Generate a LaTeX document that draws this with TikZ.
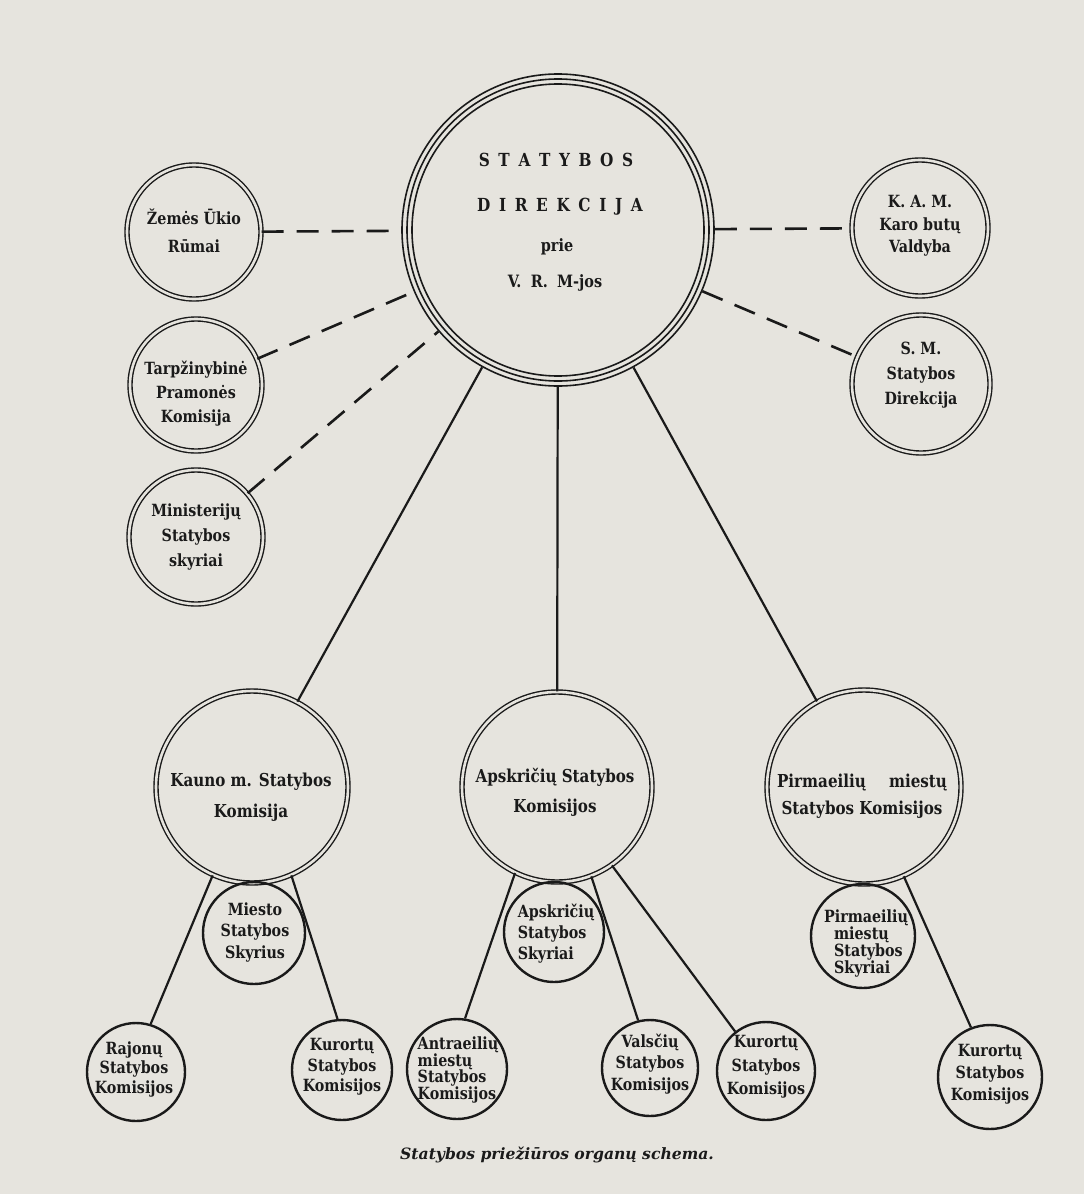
\documentclass[tikz,border=0pt]{standalone}
\usepackage{fontspec}
\setmainfont{DejaVu Serif}[FakeStretch=0.85]
\newfontfamily\capfont{DejaVu Serif}
\definecolor{paper}{RGB}{230,228,222}
\definecolor{ink}{RGB}{26,26,26}
\def\lsp#1{\lspA#1\relax\unkern}
\def\lspA#1{\ifx#1\relax\else#1\kern0.48em\expandafter\lspA\fi}
\begin{document}
\begin{tikzpicture}[x=0.5pt,y=-0.5pt,
  dbl/.style={circle, draw=ink, line width=0.7pt, double=paper, double distance=1.3pt, inner sep=0pt, minimum size=#1},
  sgl/.style={circle, draw=ink, line width=1.2pt, inner sep=0pt, minimum size=#1},
  txt/.style={font=\bfseries\fontsize{8.4}{#1}\selectfont, align=center, inner sep=0pt, text=ink},
  txt/.default=12,
  txtb/.style={font=\bfseries\fontsize{8.9}{#1}\selectfont, align=center, inner sep=0pt, text=ink},
  ttl/.style={font=\bfseries\fontsize{9}{11}\selectfont, inner sep=0pt, text=ink},
  sub/.style={font=\bfseries\fontsize{8.5}{11}\selectfont, inner sep=0pt, text=ink},
  conn/.style={draw=ink, line width=1.1pt},
  dconn/.style={draw=ink, line width=1.3pt, dash pattern=on 11pt off 6.5pt},
  capt/.style={font=\capfont\bfseries\itshape\fontsize{7.8}{10}\selectfont, inner sep=0pt, text=ink}]
\fill[paper] (0,0) rectangle (1084,1194);
\useasboundingbox (0,0) rectangle (1084,1194);

% main circle (triple line)
\node[circle, draw=ink, line width=0.8pt, inner sep=0pt, minimum size=156pt] (main) at (558,230) {};
\draw[ink, line width=0.8pt] (main.center) circle[radius=75.5pt];
\draw[ink, line width=0.8pt] (main.center) circle[radius=73pt];
\node[ttl] (mt1) at (556,160) {\lsp{STATYBOS}};
\node[ttl] (mt2) at (560,207) {\lsp{DIREKCIJA}};
\node[sub] (mt3) at (557,247) {prie};
\node[sub] (mt4) at (555,283) {V.\hspace{0.55em}R.\hspace{0.55em}M-jos};

% side circles
\node[dbl=67pt] (zem) at (194,232) {};
\node[txt=14] (zemT) at (194,231) {Žemės Ūkio\\Rūmai};
\node[dbl=66pt] (tarp) at (196,385) {};
\node[txt=12] (tarpT) at (196,394) {Tarpžinybinė\\Pramonės\\Komisija};
\node[dbl=67pt] (minis) at (196,537) {};
\node[txt=12.5] (minisT) at (196,537) {Ministerijų\\Statybos\\skyriai};
\node[dbl=68pt] (kam) at (920,228) {};
\node[txt=11.25] (kamT) at (920,226) {K.\ A.\ M.\\Karo butų\\Valdyba};
\node[dbl=69pt] (sm) at (921,384) {};
\node[txt=12.5] (smT) at (921,375) {S.\ M.\\Statybos\\Direkcija};

% second level
\node[dbl=96pt] (kauno) at (252,787) {};
\node[txtb=15.5] (kaunoT) at (251,797) {Kauno m. Statybos\\Komisija};
\node[dbl=95pt] (apsk) at (557,787) {};
\node[txtb=15] (apskT) at (555,792) {Apskričių Statybos\\Komisijos};
\node[dbl=97pt] (pirm) at (864,787) {};
\node[txtb=13.5] (pirmT) at (862,796) {Pirmaeilių\hspace{1.3em}miestų\\Statybos Komisijos};

% third level
\node[sgl=51pt] (miesto) at (254,933) {};
\node[txt=10.75] (miestoT) at (255,932) {Miesto\\Statybos\\Skyrius};
\node[sgl=50pt] (apskSk) at (554,932) {};
\node[txt=10.5, align=left] (apskSkT) at (556,934) {Apskričių\\Statybos\\Skyriai};
\node[sgl=52pt] (pirmSk) at (863,936) {};
\node[txt=8.5, align=left] (pirmSkT) at (866,943) {Pirmaeilių\\\hspace*{5pt}miestų\\\hspace*{5pt}Statybos\\\hspace*{5pt}Skyriai};

% bottom level
\node[sgl=49pt] (raj) at (136,1072) {};
\node[txt=9.75] (rajT) at (134,1069) {Rajonų\\Statybos\\Komisijos};
\node[sgl=50pt] (kur1) at (342,1070) {};
\node[txt=10.25] (kur1T) at (342,1067) {Kurortų\\Statybos\\Komisijos};
\node[sgl=50pt] (antr) at (457,1069) {};
\node[txt=8.4, align=left] (antrT) at (458,1070) {Antraeilių\\miestų\\Statybos\\Komisijos};
\node[sgl=48pt] (val) at (650,1068) {};
\node[txt=10.75] (valT) at (650,1064) {Valsčių\\Statybos\\Komisijos};
\node[sgl=49pt] (kur2) at (766,1071) {};
\node[txt=11.75] (kur2T) at (766,1067) {Kurortų\\Statybos\\Komisijos};
\node[sgl=52pt] (kur3) at (990,1077) {};
\node[txt=11] (kur3T) at (990,1074) {Kurortų\\Statybos\\Komisijos};

% dashed connectors
\draw[dconn] (zem) -- (main);
\draw[dconn] (tarp) -- (main);
\draw[dconn] (minis) -- (main);
\draw[dconn] (main) -- (kam);
\draw[dconn] (main) -- (sm);

% solid connectors
\draw[conn] (main) -- (kauno.62);
\draw[conn] (main) -- (apsk);
\draw[conn] (main) -- (pirm);
\draw[conn] (kauno.246.8) -- (raj.73.4);
\draw[conn] (kauno.294.5) -- (kur1.95);
\draw[conn] (apsk.244.5) -- (antr.81);
\draw[conn] (apsk.291.8) -- (val.104);
\draw[conn] (apsk.305) -- (kur2.128.8);
\draw[conn] (pirm.294.3) -- (kur3.111);

% caption
\node[capt] (cap) at (557,1155) {Statybos priežiūros organų schema.};
\end{tikzpicture}
\end{document}
